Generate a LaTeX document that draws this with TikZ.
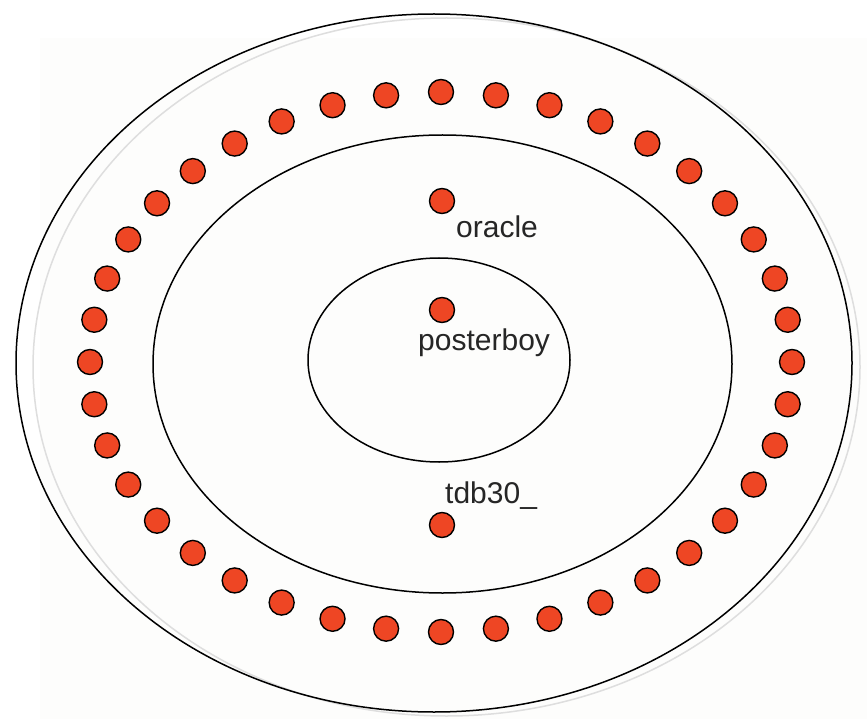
\documentclass[tikz,border=0pt]{standalone}
\usepackage{fontspec}
\setmainfont{Liberation Sans}
\definecolor{dotred}{RGB}{238,70,36}
\definecolor{paper}{RGB}{253,253,252}
\definecolor{halo}{RGB}{222,222,222}
\begin{document}
\begin{tikzpicture}[x=1pt,y=-1pt,
  ring/.style={draw=black,line width=1.5pt},
  member/.style={circle,draw=black,line width=1.4pt,fill=dotred,inner sep=0pt,minimum size=25pt},
  tag/.style={anchor=base west,inner sep=0pt,font=\fontsize{30}{36}\selectfont,text=black!85}]
  \useasboundingbox (0,0) rectangle (867,719);
  \fill[white] (0,0) rectangle (867,719);
  \fill[paper] (40,38) rectangle (867,719);
  % faint shadow of the outer boundary
  \draw[halo,line width=1.5pt] (446.5,367) ellipse [x radius=413.5, y radius=349];
  % three nested zones
  \draw[ring] (434,363) ellipse [x radius=418, y radius=349];
  \draw[ring] (442.5,364) ellipse [x radius=289.5, y radius=229];
  \draw[ring] (439,360) ellipse [x radius=131, y radius=102];
  % forty peers on the outer ring
  \foreach \i in {0,...,39}{
    \node[member] (p\i) at ({441+351*sin(9*\i)},{362-270*cos(9*\i)}) {};
  }
  % named members
  \node[member] (oracle) at (442,201) {};
  \node[member] (posterboy) at (442,310) {};
  \node[member] (tdb) at (442,525) {};
  \node[tag] (oraclelbl) at (456,238) {oracle};
  \node[tag] (posterboylbl) at (418,350) {posterboy};
  \node[tag] (tdblbl) at (445,503) {tdb30\_};
\end{tikzpicture}
\end{document}
